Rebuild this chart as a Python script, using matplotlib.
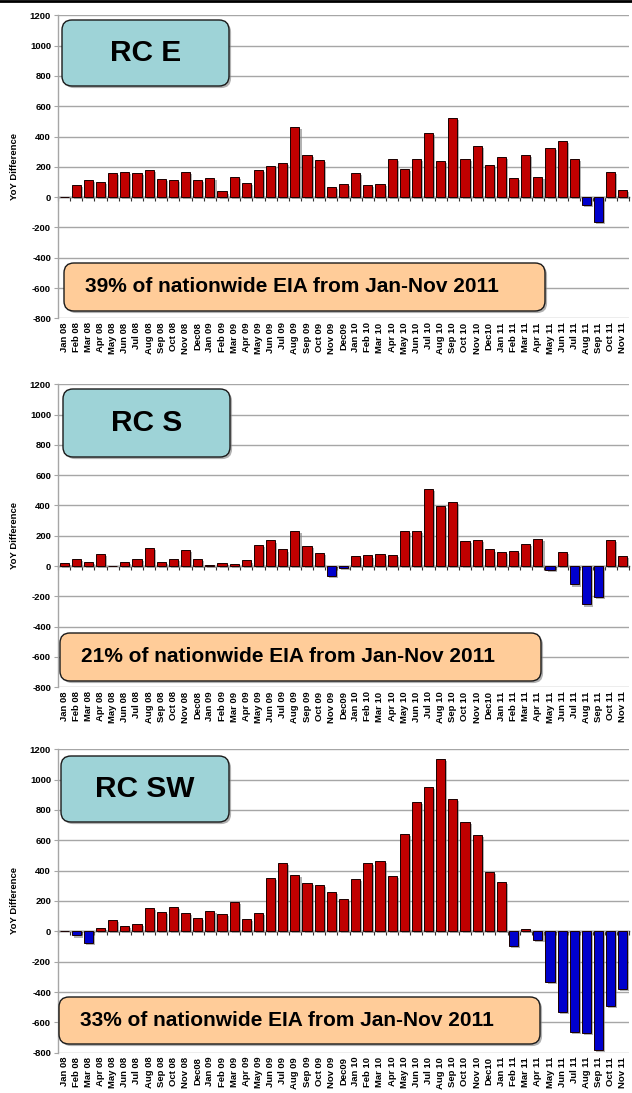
import matplotlib.pyplot as plt
import matplotlib.patheffects as pe
from matplotlib.patches import FancyBboxPatch
from matplotlib.lines import Line2D
import numpy as np

plt.rcParams['font.family'] = ['Liberation Sans', 'DejaVu Sans']
plt.rcParams['axes.unicode_minus'] = False

# month labels (as printed on the original slide)
months = ['Jan 08', 'Feb 08', 'Mar 08', 'Apr 08', 'May 08', 'Jun 08', 'Jul 08', 'Aug 08',
          'Sep 08', 'Oct 08', 'Nov 08', 'Dec08', 'Jan 09', 'Feb 09', 'Mar 09', 'Apr 09',
          'May 09', 'Jun 09', 'Jul 09', 'Aug 09', 'Sep 09', 'Oct 09', 'Nov 09', 'Dec09',
          'Jan 10', 'Feb 10', 'Mar 10', 'Apr 10', 'May 10', 'Jun 10', 'Jul 10', 'Aug 10',
          'Sep 10', 'Oct 10', 'Nov 10', 'Dec10', 'Jan 11', 'Feb 11', 'Mar 11', 'Apr 11',
          'May 11', 'Jun 11', 'Jul 11', 'Aug 11', 'Sep 11', 'Oct 11', 'Nov 11']

# YoY difference, values
rc_e = [2, 80, 114, 98, 160, 168, 160, 179, 120, 114, 164, 111, 125, 37, 133, 96,
        181, 205, 227, 461, 278, 245, 68, 87, 160, 81, 87, 254, 186, 254, 426, 240,
        520, 254, 337, 210, 262, 127, 280, 133, 324, 370, 249, -50, -162, 164, 48]
rc_s = [22, 48, 30, 78, -2, 30, 48, 121, 30, 48, 105, 48, 5, 20, 15, 37,
        141, 169, 110, 233, 134, 88, -66, -15, 64, 70, 79, 73, 233, 233, 510, 396,
        422, 165, 174, 110, 95, 99, 147, 182, -24, 95, -121, -253, -202, 174, 66]
rc_sw = [5, -27, -79, 22, 77, 33, 51, 152, 125, 158, 121, 90, 134, 112, 193, 81,
         119, 352, 451, 369, 321, 303, 257, 211, 347, 448, 466, 363, 644, 855, 950, 1134,
         875, 719, 633, 393, 323, -97, 18, -55, -332, -534, -666, -670, -780, -490, -382]

panels = [('RC E', '39% of nationwide EIA from Jan-Nov 2011', rc_e),
          ('RC S', '21% of nationwide EIA from Jan-Nov 2011', rc_s),
          ('RC SW', '33% of nationwide EIA from Jan-Nov 2011', rc_sw)]

W, H = 632, 1093
fig = plt.figure(figsize=(W / 100, H / 100), dpi=100)

# axes boxes in pixels: (top, bottom)
ax_rows = [(15.3, 318.3), (384.3, 687.3), (749.3, 1052.7)]
# label boxes in pixels: (x0, y0, x1, y1)
rc_boxes = [(62, 20, 229, 86), (63, 389, 230, 457), (61, 756, 229, 822)]
pct_boxes = [(64, 263, 545, 311), (60, 633, 541, 681), (59, 997, 540, 1044)]

left, right = 58, 629
shadow = [pe.SimplePatchShadow(offset=(1.5, -1.5), shadow_rgbFace='#7f7f7f', alpha=0.6),
          pe.Normal()]


def fig_box(x0, y0, x1, y1, color, zorder=5):
    p = FancyBboxPatch((x0 / W, 1 - y1 / H), (x1 - x0) / W, (y1 - y0) / H,
                       boxstyle='round,pad=0,rounding_size=%f' % (10 / W),
                       mutation_aspect=W / H,
                       transform=fig.transFigure, facecolor=color,
                       edgecolor='#1a1a1a', linewidth=1.0, zorder=zorder,
                       path_effects=shadow)
    fig.add_artist(p)


x = np.arange(len(months))
for (name, note, vals), (top, bot), rcb, pcb in zip(panels, ax_rows, rc_boxes, pct_boxes):
    ax = fig.add_axes([left / W, 1 - bot / H, (right - left) / W, (bot - top) / H])
    vals = np.array(vals)
    colors = np.where(vals >= 0, '#C00000', '#0000CC')
    ax.bar(x, vals, width=0.75, color=colors, edgecolor='#1a0000', linewidth=0.7,
           zorder=3, path_effects=shadow)
    ax.set_xlim(-0.5, len(months) - 0.5)
    ax.set_ylim(-800, 1200)
    ax.set_yticks(np.arange(-800, 1201, 200))
    ax.yaxis.grid(True, color='#a6a6a6', linewidth=1.0, zorder=0)
    ax.set_axisbelow(True)
    for s in ['top', 'right', 'bottom']:
        ax.spines[s].set_visible(False)
    ax.spines['left'].set_color('#a6a6a6')
    ax.spines['left'].set_linewidth(1.0)
    ax.tick_params(axis='y', length=3, color='#a6a6a6', labelsize=6.8, pad=2)
    for t in ax.get_yticklabels():
        t.set_fontweight('bold')
    ax.set_xticks(x)
    ax.set_xticklabels(months, rotation=90, fontsize=6.8, fontweight='bold')
    ax.tick_params(axis='x', length=0, pad=3)
    ax.set_ylabel('YoY Difference', fontsize=6.8, fontweight='bold')
    ax.yaxis.set_label_coords(-0.068, 0.5)

    # category axis crossing at zero with tick marks between months
    zero_frac = (0 - ax.get_ylim()[0]) / (ax.get_ylim()[1] - ax.get_ylim()[0])
    sec = ax.secondary_xaxis(zero_frac)
    sec.set_xticks(np.arange(-0.5, len(months), 1.0))
    sec.set_xticklabels([])
    sec.tick_params(axis='x', length=3, width=0.8, color='#333333', direction='out')
    sec.spines['bottom'].set_color('#333333')
    sec.spines['bottom'].set_linewidth(1.0)

    fig_box(*rcb, color='#9ED3D7')
    fig.text((rcb[0] + rcb[2]) / 2 / W, 1 - (rcb[1] + rcb[3]) / 2 / H, name,
             fontsize=21.5, fontweight='bold', ha='center', va='center', zorder=6)
    fig_box(*pcb, color='#FFCC99')
    fig.text((pcb[0] + 21) / W, 1 - (pcb[1] + pcb[3]) / 2 / H, note,
             fontsize=15, fontweight='bold', ha='left', va='center', zorder=6)

# dark rule along the top of the slide
fig.add_artist(Line2D([0, 1], [1 - 1.2 / H, 1 - 1.2 / H], transform=fig.transFigure,
                      color='black', linewidth=2.0))

fig.savefig('out.png', dpi=100)
